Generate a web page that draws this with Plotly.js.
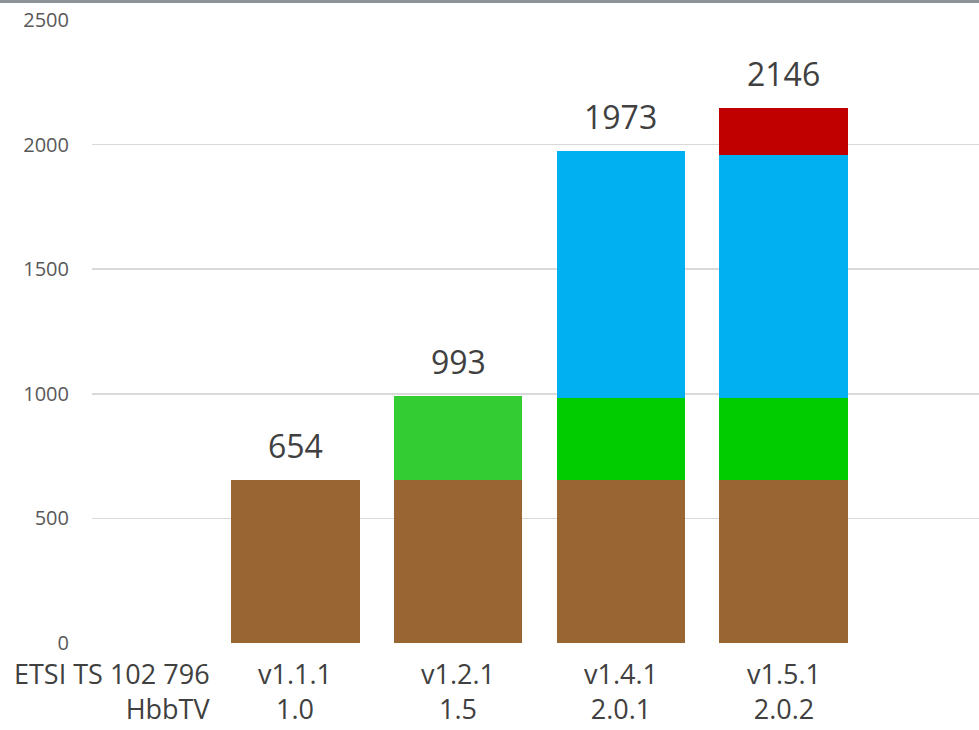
<!DOCTYPE html>
<html>
<head>
<meta charset="utf-8">
<script src="https://cdn.plot.ly/plotly-3.0.1.min.js"></script>
<style>
  html, body { margin: 0; padding: 0; background: #fff; }
  #topbar { position: absolute; left: 0; top: 0; width: 979px; height: 3px; background: #8c9399; z-index: 10; }
  #chart { width: 979px; height: 730px; }
</style>
</head>
<body>
<div id="topbar"></div>
<div id="chart"></div>
<script>
// Category labels (first category is the row header)
const labelLine1 = ["ETSI TS 102 796", "v1.1.1", "v1.2.1", "v1.4.1", "v1.5.1"];
const labelLine2 = ["HbbTV", "1.0", "1.5", "2.0.1", "2.0.2"];

// Series values (stacked), one per version category (categories 1..4)
const barPos   = [1, 2, 3, 4];
const brown    = [654, 654, 654, 654];
const green    = [null, 339, 331, 331];
const blue     = [null, null, 988, 972];
const red      = [null, null, null, 189];
const totals   = [654, 993, 1973, 2146];

const fontFam = '"Open Sans", "Noto Sans", sans-serif';
const barW = 0.79;

const traces = [
  { type: 'bar', x: barPos, y: brown, width: barW, marker: { color: '#996633' }, hoverinfo: 'y' },
  { type: 'bar', x: barPos, y: green, width: barW, marker: { color: ['#33cc33', '#33cc33', '#00cc00', '#00cc00'] }, hoverinfo: 'y' },
  { type: 'bar', x: barPos, y: blue, width: barW, marker: { color: '#00b0f0' }, hoverinfo: 'y' },
  { type: 'bar', x: barPos, y: red, width: barW, marker: { color: '#c00000' }, hoverinfo: 'y' }
];

const annotations = [];
// total value labels above the stacks
barPos.forEach((p, i) => {
  annotations.push({
    x: p, y: totals[i], xref: 'x', yref: 'y',
    text: String(totals[i]), showarrow: false,
    xanchor: 'center', yanchor: 'bottom', yshift: 11,
    font: { family: fontFam, size: 32, color: '#404040' }
  });
});
// category labels (two lines in one text)
labelLine1.forEach((t, i) => {
  const first = i === 0;
  annotations.push({
    x: first ? 0.49 : i, y: 0, xref: 'x', yref: 'paper',
    text: t + '<br>' + labelLine2[i], showarrow: false,
    xanchor: first ? 'right' : 'center', align: first ? 'right' : 'center',
    yanchor: 'top', yshift: -10,
    font: { family: fontFam, size: 27, color: '#404040' }
  });
});

const layout = {
  width: 979, height: 730,
  margin: { l: 92, r: 0, t: 20, b: 87 },
  paper_bgcolor: '#ffffff', plot_bgcolor: '#ffffff',
  barmode: 'stack',
  bargap: 0,
  showlegend: false,
  xaxis: {
    range: [-0.25, 5.2], showgrid: false, zeroline: false,
    showticklabels: false, ticks: '', showline: false, fixedrange: true
  },
  yaxis: {
    range: [0, 2500], tickvals: [0, 500, 1000, 1500, 2000, 2500],
    showgrid: true, gridcolor: '#d9d9d9', gridwidth: 1.5,
    zeroline: false, showline: false, ticks: '',
    ticklabelstandoff: 22,
    tickfont: { family: fontFam, size: 20, color: '#595959' },
    fixedrange: true
  },
  annotations: annotations
};

Plotly.newPlot('chart', traces, layout, { displayModeBar: false, staticPlot: true });
</script>
</body>
</html>
